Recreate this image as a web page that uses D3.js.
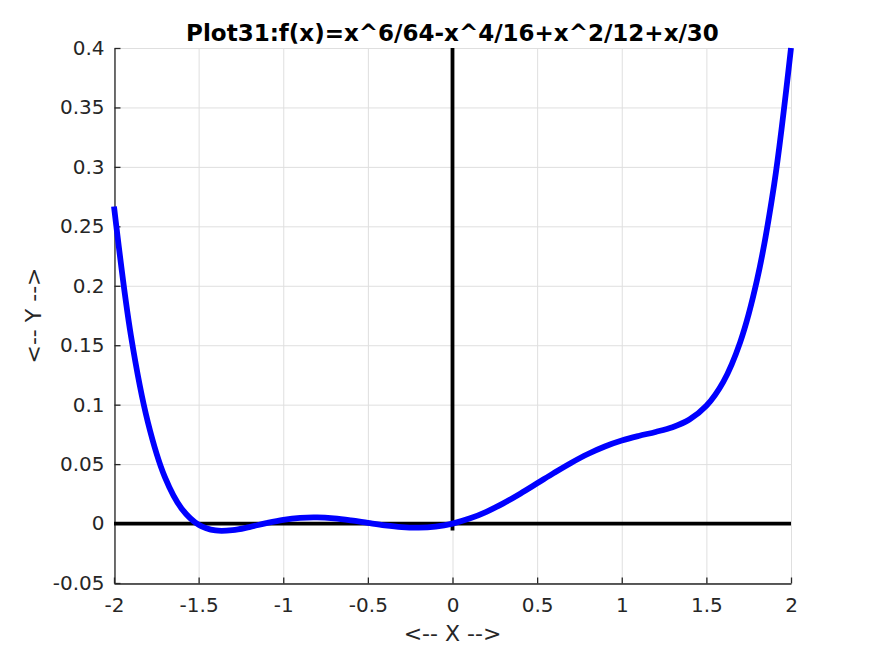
<!DOCTYPE html>
<html><head><meta charset="utf-8">
<script src="https://cdn.jsdelivr.net/npm/d3@7"></script>
<style>body{margin:0;background:#fff}svg{display:block}text{font-family:"DejaVu Sans",sans-serif;fill:#262626}</style>
</head><body><svg id="c" width="875" height="656"></svg>
<script>
const titleText = "Plot31:f(x)=x^6/64-x^4/16+x^2/12+x/30";
const xLabel = "<-- X -->";
const yLabel = "<-- Y -->";
const xTicks = [-2, -1.5, -1, -0.5, 0, 0.5, 1, 1.5, 2];
const yTicks = [-0.05, 0, 0.05, 0.1, 0.15, 0.2, 0.25, 0.3, 0.35, 0.4];
const xs = [-2.0,-1.9,-1.8,-1.7,-1.6,-1.5,-1.4,-1.3,-1.2,-1.1,-1.0,-0.9,-0.8,-0.7,-0.6,-0.5,-0.4,-0.3,-0.2,-0.1,0,
            0.1,0.2,0.3,0.4,0.5,0.6,0.7,0.8,0.9,1.0,1.1,1.2,1.3,1.4,1.5,1.6,1.7,1.8,1.9,2.0];
const ys = [0.26667,0.158086,0.085341,0.039303,0.012544,-0.000927,-0.005785,-0.005587,-0.002944,0.000341,0.003125,
            0.004798,0.005163,0.004332,0.002629,0.000504,-0.001536,-0.002995,-0.003433,-0.002506,0,
            0.004160,0.009901,0.017005,0.025130,0.033838,0.042629,0.050998,0.058496,0.064798,0.069791,
            0.073675,0.077056,0.081079,0.087549,0.099073,0.119210,0.152637,0.205341,0.284752,0.4];
const vLineY = [-0.0058, 0.4];

const svg = d3.select("#c");
const L = 114, R = 791, T = 48, B = 583;
const x = d3.scaleLinear().domain([-2, 2]).range([L, R]);
const y = d3.scaleLinear().domain([-0.05, 0.4]).range([B, T]);
const fmt = d => String(+d.toFixed(2));

// grid
const g = svg.append("g");
g.selectAll(".gx").data(xTicks).enter().append("line")
  .attr("x1", d => x(d)+0.5).attr("x2", d => x(d)+0.5).attr("y1", T).attr("y2", B)
  .attr("stroke", "#dfdfdf").attr("stroke-width", 1);
g.selectAll(".gy").data(yTicks).enter().append("line")
  .attr("y1", d => y(d)+0.5).attr("y2", d => y(d)+0.5).attr("x1", L).attr("x2", R)
  .attr("stroke", "#dfdfdf").attr("stroke-width", 1);

// axes
const xa = svg.append("g").attr("transform", `translate(0,${B+0.5})`)
  .call(d3.axisBottom(x).tickValues(xTicks).tickFormat(fmt).tickSizeInner(-6).tickSizeOuter(0).tickPadding(14));
const ya = svg.append("g").attr("transform", `translate(${L+0.5},0)`)
  .call(d3.axisLeft(y).tickValues(yTicks).tickFormat(fmt).tickSizeInner(-6).tickSizeOuter(0).tickPadding(10));
[xa, ya].forEach(a => {
  a.select(".domain").attr("stroke", "#262626").attr("stroke-width", 1.3);
  a.selectAll(".tick line").attr("stroke", "#262626").attr("stroke-width", 1.3);
  a.selectAll("text").attr("font-size", 20).attr("fill", "#262626").style("font-family", "DejaVu Sans");
});

// zero axes lines
svg.append("line").attr("x1", x(-2)).attr("x2", x(2)).attr("y1", y(0)).attr("y2", y(0))
  .attr("stroke", "#000").attr("stroke-width", 3.8);
svg.append("line").attr("x1", x(0)).attr("x2", x(0)).attr("y1", y(vLineY[0])).attr("y2", y(vLineY[1]))
  .attr("stroke", "#000").attr("stroke-width", 3.8);

// curve
const data = xs.map((v, i) => [v, ys[i]]);
svg.append("path").datum(data)
  .attr("d", d3.line().x(d => x(d[0])).y(d => y(d[1])).curve(d3.curveCatmullRom.alpha(0.5)))
  .attr("fill", "none").attr("stroke", "#0000ff").attr("stroke-width", 5.8).attr("stroke-linejoin", "round");

// title & labels
svg.append("text").attr("x", (L+R)/2).attr("y", 41).attr("text-anchor", "middle")
  .attr("font-size", 23).attr("font-weight", "bold").style("fill", "#000").text(titleText);
svg.append("text").attr("x", (L+R)/2).attr("y", 641).attr("text-anchor", "middle")
  .attr("font-size", 22).text(xLabel);
svg.append("text").attr("transform", `translate(41,${(T+B)/2}) rotate(-90)`).attr("text-anchor", "middle")
  .attr("font-size", 22).text(yLabel);
</script></body></html>
